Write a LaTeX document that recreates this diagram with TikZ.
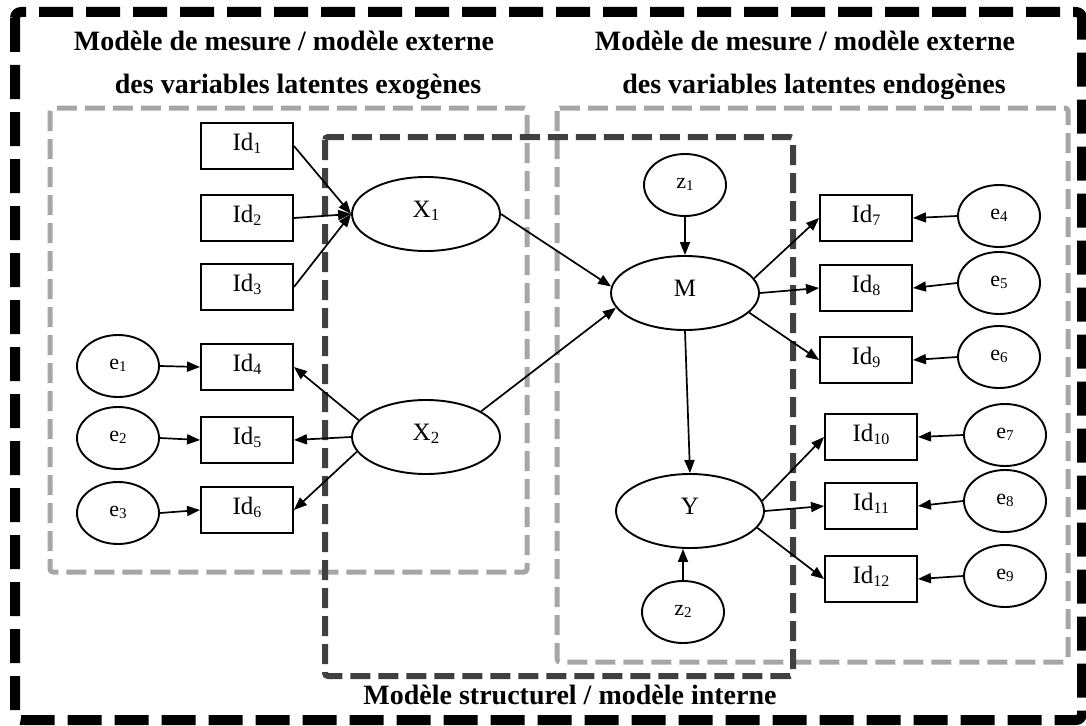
\documentclass[tikz,border=0pt]{standalone}
\usepackage{fontspec}
\setmainfont{Liberation Serif}
\usetikzlibrary{arrows.meta,shapes.geometric}
\newcommand{\lsub}[2][16]{\raisebox{-2.8pt}{\fontsize{#1}{#1}\selectfont #2}}
\definecolor{lightdash}{RGB}{166,166,166}
\definecolor{darkdash}{RGB}{64,64,64}
\begin{document}
\begin{tikzpicture}[x=1pt,y=-1pt,
  ind/.style={draw,line width=1.9pt,fill=white,minimum width=92pt,minimum height=46pt,inner sep=0pt,text height=0.85em,text depth=0em,font=\fontsize{25}{25}\selectfont},
  lat/.style={ellipse,draw,line width=1.9pt,fill=white,minimum width=148pt,minimum height=74pt,inner sep=0pt,text height=0.72em,text depth=0.06em,font=\fontsize{25}{25}\selectfont},
  err/.style={ellipse,draw,line width=1.9pt,fill=white,minimum width=82pt,minimum height=62pt,inner sep=0pt,text height=0.65em,text depth=0.05em,font=\fontsize{22}{22}\selectfont},
  arr/.style={line width=1.7pt,-{Triangle[length=13pt,width=10pt]}},
  title/.style={font=\fontsize{28}{28}\selectfont\bfseries,inner sep=0pt},
  outerframe/.style={line width=10pt,black,dash pattern=on 34pt off 13pt,rounded corners=6pt},
  lightbox/.style={line width=5pt,lightdash,dash pattern=on 20pt off 8pt,rounded corners=3pt},
  darkbox/.style={line width=6pt,darkdash,dash pattern=on 20pt off 8pt,rounded corners=3pt}]
\useasboundingbox (0,0) rectangle (1086,725);
% frames
\draw[outerframe] (15,12) rectangle (1082,720);
\draw[lightbox] (50,108) rectangle (527,572);
\draw[lightbox] (557,108) rectangle (1068,662);
\draw[darkbox] (325,137) rectangle (793,676);
% titles
\node[title] (t1) at (284,41) {Modèle de mesure / modèle externe};
\node[title] (t2) at (298,87) {des variables latentes exogènes};
\node[title] (t3) at (805,41) {Modèle de mesure / modèle externe};
\node[title] (t4) at (814,87) {des variables latentes endogènes};
\node[title] (t5) at (570,695) {Modèle structurel / modèle interne};
% left indicators
\node[ind] (id1) at (247,146) {Id\lsub{1}};
\node[ind] (id2) at (247,218) {Id\lsub{2}};
\node[ind] (id3) at (247,287) {Id\lsub{3}};
\node[ind] (id4) at (247,367) {Id\lsub{4}};
\node[ind] (id5) at (247,440) {Id\lsub{5}};
\node[ind] (id6) at (247,510) {Id\lsub{6}};
\node[err] (e1) at (118,366) {e\lsub[15]{1}};
\node[err] (e2) at (118,438) {e\lsub[15]{2}};
\node[err] (e3) at (118,513) {e\lsub[15]{3}};
% latent
\node[lat] (X1) at (426,214) {X\lsub[17]{1}};
\node[lat] (X2) at (426,437) {X\lsub[17]{2}};
\node[err] (z1) at (685,185) {z\lsub[15]{1}};
\node[lat] (M) at (685,293) {M};
\node[lat] (Y) at (690,511) {Y};
\node[err] (z2) at (683,612) {z\lsub[15]{2}};
% right indicators
\node[ind] (id7) at (866,218) {Id\lsub{7}};
\node[ind] (id8) at (866,288) {Id\lsub{8}};
\node[ind] (id9) at (866,360) {Id\lsub{9}};
\node[ind] (id10) at (871,437) {Id\lsub{10}};
\node[ind] (id11) at (871,506) {Id\lsub{11}};
\node[ind] (id12) at (871,579) {Id\lsub{12}};
\node[err] (e4) at (999,216) {e\lsub[15]{4}};
\node[err] (e5) at (999,283) {e\lsub[15]{5}};
\node[err] (e6) at (999,357) {e\lsub[15]{6}};
\node[err] (e7) at (1005,435) {e\lsub[15]{7}};
\node[err] (e8) at (1005,501) {e\lsub[15]{8}};
\node[err] (e9) at (1005,576) {e\lsub[15]{9}};
% arrows
\draw[arr] (id1.east) -- (X1.west);
\draw[arr] (id2.east) -- (X1.west);
\draw[arr] (id3.east) -- (X1.west);
\draw[arr] (X2.166) -- (id4.east);
\draw[arr] (X2.west) -- (id5.east);
\draw[arr] (X2.192) -- (id6.east);
\draw[arr] (e1.east) -- (id4.west);
\draw[arr] (e2.east) -- (id5.west);
\draw[arr] (e3.east) -- (id6.west);
\draw[arr] (X1.east) -- (M.175);
\draw[arr] (X2.25) -- (M.192);
\draw[arr] (z1.south) -- (M.north);
\draw[arr] (M.south) -- (Y.north);
\draw[arr] (z2.north) -- (z2.north |- Y.south);
\draw[arr] (M.12) -- (id7.west);
\draw[arr] (M.east) -- (id8.west);
\draw[arr] (M.-17) -- (id9.west);
\draw[arr] (Y.8) -- (id10.west);
\draw[arr] (Y.east) -- (id11.west);
\draw[arr] (Y.-14) -- (id12.west);
\draw[arr] (e4.west) -- (id7.east);
\draw[arr] (e5.west) -- (id8.east);
\draw[arr] (e6.west) -- (id9.east);
\draw[arr] (e7.west) -- (id10.east);
\draw[arr] (e8.west) -- (id11.east);
\draw[arr] (e9.west) -- (id12.east);
\end{tikzpicture}
\end{document}
